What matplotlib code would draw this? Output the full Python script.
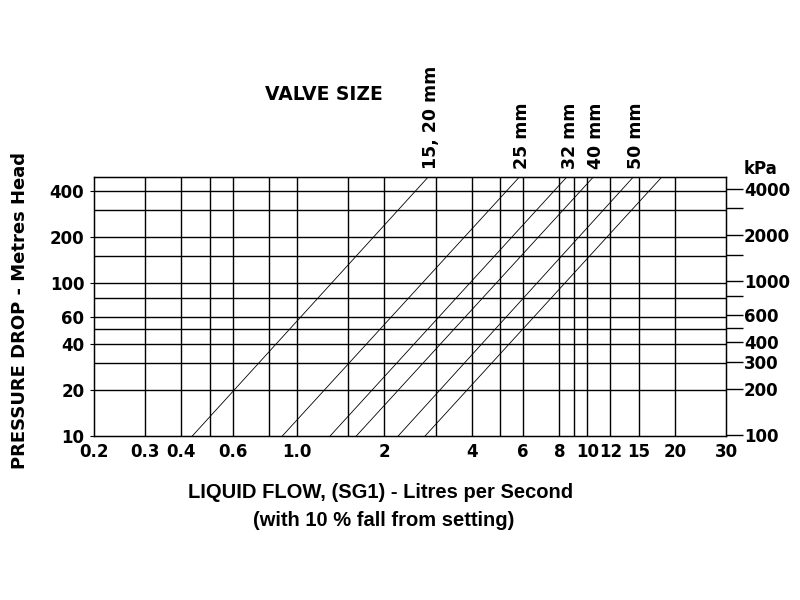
import matplotlib
matplotlib.use("Agg")
import matplotlib.pyplot as plt
from matplotlib.ticker import FixedLocator, FixedFormatter, NullFormatter

# ---- data ----
valve_labels = ["15, 20 mm", "25 mm", "32 mm", "40 mm", "50 mm", ""]
flow_at_low = [0.436, 0.890, 1.30, 1.60, 2.23, 2.76]     # l/s at 10 m head
flow_at_high = [2.83, 5.83, 8.49, 10.48, 14.39, 18.04]    # l/s at 490 m head
head_low = 10
head_high = 490

x_grid = [0.3, 0.4, 0.5, 0.6, 0.8, 1.0, 1.5, 2, 3, 4, 5, 6, 8, 9, 10, 12, 15, 20]
x_ticks = [0.2, 0.3, 0.4, 0.6, 1.0, 2, 4, 6, 8, 10, 12, 15, 20, 30]
x_ticklabels = ["0.2", "0.3", "0.4", "0.6", "1.0", "2", "4", "6", "8", "10", "12", "15", "20", "30"]

y_grid = [20, 30, 40, 50, 60, 80, 100, 150, 200, 300, 400]
y_ticks = [10, 20, 40, 60, 100, 200, 400]
y_ticklabels = ["10", "20", "40", "60", "100", "200", "400"]

kpa_per_m = 9.81
kpa_ticks = [100, 200, 300, 400, 600, 1000, 2000, 4000]
kpa_minor = [500, 800, 1500, 3000]

FONT = "DejaVu Sans"
fig = plt.figure(figsize=(8, 6), dpi=100)
ax = fig.add_axes([94/800, 1-436/600, (726-94)/800, (436-177)/600])
ax.set_xscale("log")
ax.set_yscale("log")
ax.set_xlim(0.2, 30)
ax.set_ylim(head_low, head_high)

for xv in x_grid:
    ax.axvline(xv, color="black", lw=1.0)
for yv in y_grid:
    ax.axhline(yv, color="black", lw=1.0)

for lo, hi in zip(flow_at_low, flow_at_high):
    ax.plot([lo, hi], [head_low, head_high], color="black", lw=0.6)

for lab, hi in zip(valve_labels, flow_at_high):
    if lab:
        ax.annotate(lab, xy=(hi, 1.0), xycoords=("data", "axes fraction"),
                    xytext=(3, 8), textcoords="offset pixels", rotation=90,
                    ha="center", va="bottom", fontsize=12.5, fontweight="bold",
                    family=FONT)

ax.xaxis.set_major_locator(FixedLocator(x_ticks))
ax.xaxis.set_major_formatter(FixedFormatter(x_ticklabels))
ax.xaxis.set_minor_locator(FixedLocator([]))
ax.yaxis.set_major_locator(FixedLocator(y_ticks))
ax.yaxis.set_major_formatter(FixedFormatter(y_ticklabels))
ax.yaxis.set_minor_locator(FixedLocator([]))
ax.tick_params(axis="x", length=0, pad=5, labelsize=12)
ax.tick_params(axis="y", length=3, pad=4, labelsize=12)
for t in ax.get_xticklabels() + ax.get_yticklabels():
    t.set_fontweight("bold")
    t.set_family(FONT)
for s in ax.spines.values():
    s.set_linewidth(1.0)

ax2 = ax.twinx()
ax2.set_yscale("log")
ax2.set_ylim(head_low*kpa_per_m, head_high*kpa_per_m)
ax2.yaxis.set_major_locator(FixedLocator(kpa_ticks))
ax2.yaxis.set_major_formatter(FixedFormatter([str(v) for v in kpa_ticks]))
ax2.yaxis.set_minor_locator(FixedLocator(kpa_minor))
ax2.yaxis.set_minor_formatter(NullFormatter())
ax2.tick_params(axis="y", which="both", length=12, width=1.0, pad=1, labelsize=12)
for t in ax2.get_yticklabels():
    t.set_fontweight("bold")
    t.set_family(FONT)
ax2.text(1.054, 1.03, "kPa", transform=ax2.transAxes, ha="center", va="center",
         fontsize=12, fontweight="bold", family=FONT)

fig.text(324/800, 1-95/600, "VALVE SIZE", ha="center", va="center",
         fontsize=13.5, fontweight="bold", family=FONT)
fig.text(20/800, 1-310/600, "PRESSURE DROP - Metres Head", rotation=90,
         ha="center", va="center", fontsize=13, fontweight="bold", family=FONT)
fig.text(381/800, 1-493/600, "LIQUID FLOW, (SG1) - Litres per Second",
         ha="center", va="center", fontsize=14.5, fontweight="bold",
         family="Liberation Sans")
fig.text(384/800, 1-521/600, "(with 10 % fall from setting)",
         ha="center", va="center", fontsize=14.5, fontweight="bold",
         family="Liberation Sans")

fig.savefig("out.png", dpi=100)
